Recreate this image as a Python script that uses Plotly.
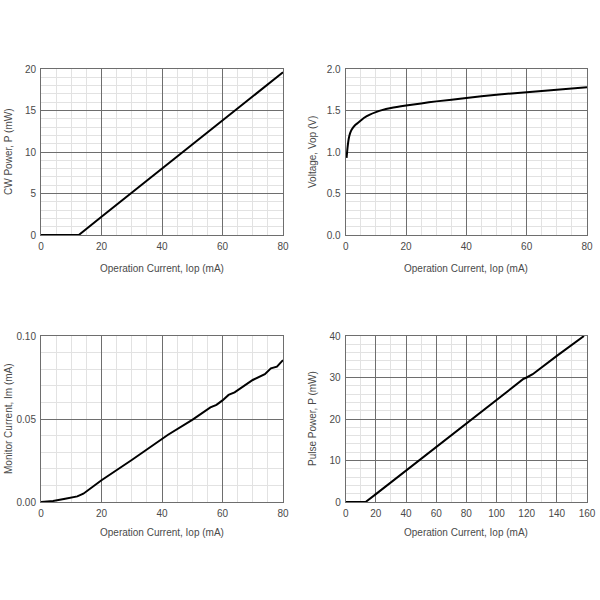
import plotly.graph_objects as go

# ---- data ----
cw_iop = [0, 5, 10, 12.5, 20, 30, 40, 50, 60, 66, 70, 72, 76, 80]
cw_p = [0, 0, 0, 0, 2.2, 5.1, 8.0, 10.9, 13.8, 15.5, 16.6, 17.2, 18.4, 19.6]

v_iop = [0.3, 0.6, 1, 1.5, 2, 3, 4, 5, 6, 8, 10, 12, 15, 20, 25, 30, 40, 50, 60, 70, 80]
v_vop = [0.93, 1.05, 1.16, 1.23, 1.27, 1.32, 1.35, 1.38, 1.41, 1.45, 1.48, 1.505, 1.53, 1.56, 1.585, 1.61, 1.65, 1.69, 1.72, 1.75, 1.78]

m_iop = [0, 2, 4, 8, 12, 14, 20, 30, 40, 42, 50, 54, 56, 58, 60, 62, 64, 70, 74, 76, 78, 80]
m_im = [0, 0.0001, 0.0006, 0.002, 0.0034, 0.005, 0.0131, 0.0253, 0.0376, 0.0405, 0.0495, 0.0545, 0.057, 0.0585, 0.0612, 0.0645, 0.066, 0.0735, 0.077, 0.0805, 0.0815, 0.0855]

p_iop = [0, 5, 10, 13.2, 20, 40, 60, 80, 100, 118, 120, 124, 140, 158]
p_p = [0, 0, 0, 0, 1.9, 7.6, 13.3, 19.1, 24.8, 29.7, 30.0, 30.8, 35.2, 40.0]

xtitle = "Operation Current, Iop (mA)"
ytitles = ["CW Power, P (mW)", "Voltage, Vop (V)", "Monitor Current, Im (mA)", "Pulse Power, P (mW)"]

W = 600
dom_x = [(41 / W, 283 / W), (345.7 / W, 587 / W)]
dom_y_top = (1 - 235 / W, 1 - 69 / W)
dom_y_bot = (1 - 502 / W, 1 - 336 / W)

FONT = "Liberation Sans, Arial, sans-serif"
TXT = "#4a4a4a"
MAJ = "#6e6e6e"
MIN = "#e2e2e2"

fig = go.Figure()
line = dict(color="black", width=2)
fig.add_trace(go.Scatter(x=cw_iop, y=cw_p, mode="lines", line=line, xaxis="x", yaxis="y"))
fig.add_trace(go.Scatter(x=v_iop, y=v_vop, mode="lines", line=dict(color="black", width=2, shape="spline", smoothing=0.6), xaxis="x2", yaxis="y2"))
fig.add_trace(go.Scatter(x=m_iop, y=m_im, mode="lines", line=line, xaxis="x3", yaxis="y3"))
fig.add_trace(go.Scatter(x=p_iop, y=p_p, mode="lines", line=line, xaxis="x4", yaxis="y4"))


def ax(domain, rng, dtick, mdtick, anchor, fmt=None):
    d = dict(domain=domain, range=rng, dtick=dtick, tick0=0, anchor=anchor,
             automargin=False,
             showgrid=True, gridcolor=MAJ, gridwidth=1,
             minor=dict(dtick=mdtick, tick0=0, showgrid=True, gridcolor=MIN, gridwidth=1),
             showline=True, linecolor=MAJ, linewidth=1, mirror=True,
             zeroline=False, ticks="", ticklabelstandoff=2,
             tickfont=dict(family=FONT, size=10, color=TXT), fixedrange=True)
    if fmt:
        d["tickformat"] = fmt
    return d


layout = dict(
    width=600, height=600, margin=dict(l=0, r=0, t=0, b=0, autoexpand=False),
    paper_bgcolor="white", plot_bgcolor="white", showlegend=False,
    xaxis=ax(dom_x[0], [0, 80], 20, 5, "y"),
    yaxis=ax(dom_y_top, [0, 20], 5, 1, "x"),
    xaxis2=ax(dom_x[1], [0, 80], 20, 5, "y2"),
    yaxis2=ax(dom_y_top, [0, 2.0], 0.5, 0.1, "x2", ".1f"),
    xaxis3=ax(dom_x[0], [0, 80], 20, 5, "y3"),
    yaxis3=ax(dom_y_bot, [0, 0.10], 0.05, 0.01, "x3", ".2f"),
    xaxis4=ax(dom_x[1], [0, 160], 20, 10, "y4"),
    yaxis4=ax(dom_y_bot, [0, 40], 10, 2, "x4"),
)
fig.update_layout(**layout)

anns = []
cx = [(41 + 283) / 2, (345.7 + 587) / 2]
for i, (x, y) in enumerate([(cx[0], 268), (cx[1], 268), (cx[0], 532), (cx[1], 532)]):
    anns.append(dict(text=xtitle, x=x / W, y=1 - y / W, xref="paper", yref="paper",
                     showarrow=False, xanchor="center", yanchor="middle",
                     font=dict(family=FONT, size=10, color=TXT)))
ycy = [(69 + 235) / 2, (69 + 235) / 2, (336 + 502) / 2, (336 + 502) / 2]
ytx = [8, 312, 8, 312]
for t, x, y in zip(ytitles, ytx, ycy):
    anns.append(dict(text=t, x=x / W, y=1 - y / W, xref="paper", yref="paper",
                     showarrow=False, xanchor="center", yanchor="middle", textangle=-90,
                     font=dict(family=FONT, size=10, color=TXT)))
fig.update_layout(annotations=anns)

fig.write_html("out.html")
